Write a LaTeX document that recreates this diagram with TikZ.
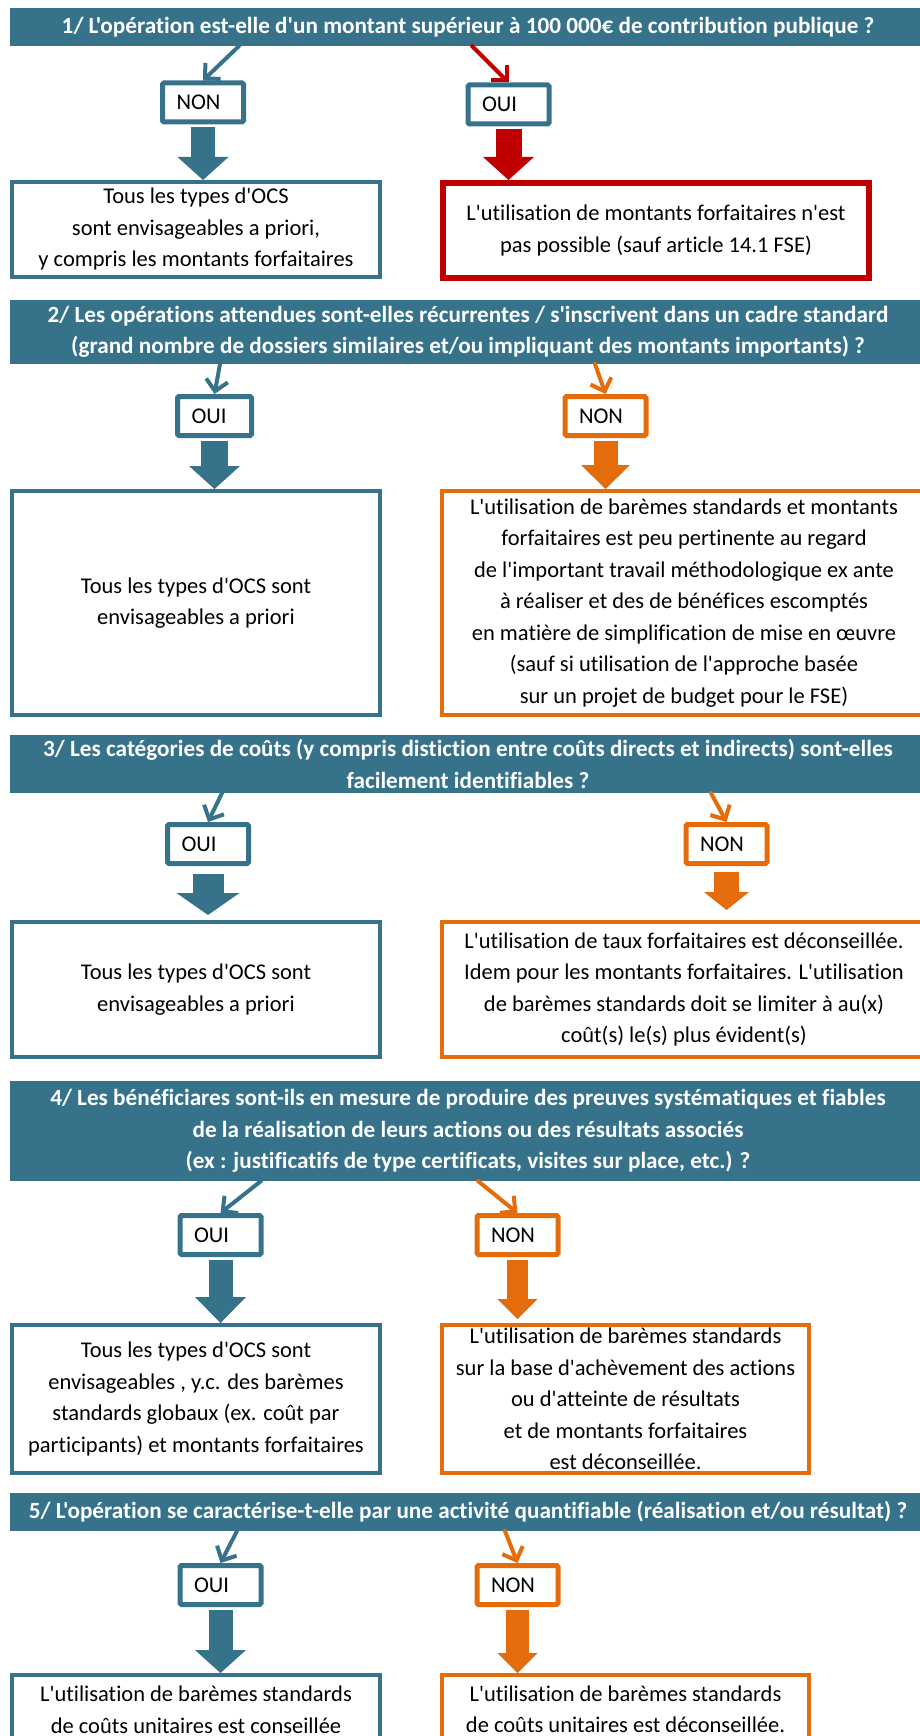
\documentclass[tikz,border=0pt]{standalone}
\usepackage{fontspec}
\setmainfont{Carlito}[Ligatures = {TeXOff, CommonOff}]
\usetikzlibrary{arrows.meta}
\definecolor{Teal}{RGB}{54,115,139}
\definecolor{Orange}{RGB}{228,108,10}
\definecolor{Red}{RGB}{192,0,0}

\begin{document}
\fontsize{22.5}{31.5}\selectfont
\begin{tikzpicture}[x = 1pt, y = -1pt]
\tikzstyle{QuestionStyle}=[fill = Teal, text = white, font = \fontsize{23.2}{31.5}\selectfont\bfseries,
                           minimum width = 916pt, inner sep = 0pt, align = center]
\tikzstyle{AnswerStyle}=[draw, line width = 5pt, rounded corners = 1.5pt, fill = white,
                         text width = 53pt, inner xsep = 14pt, inner ysep = 0pt,
                         minimum height = 39pt, align = left]
\tikzstyle{ResultStyle}=[draw, line width = 4pt, inner sep = 0pt, align = center,
                         minimum width = 368pt]
\tikzstyle{LinkStyle}=[line width = 4pt, line cap = round,
                       -{Straight Barb[length = 11pt, width = 22pt]}]
\tikzstyle{BlockStyle}=[line width = 24pt, shorten < = 2.5pt,
                        -{Triangle[width = 51pt, length = 23pt, line width = 0pt]}]
\useasboundingbox (0, 0) rectangle (919, 1736);

\node[QuestionStyle, minimum height = 38pt] (q1) at (468, 27)
  {1/ L'opération est-elle d'un montant supérieur à 100 000€ de contribution publique ?};
\node[AnswerStyle, draw = Teal] (a1) at (203, 102.5) {NON};
\node[AnswerStyle, draw = Teal] (b1) at (508.5, 104.5) {OUI};
\node[ResultStyle, draw = Teal, minimum height = 95pt] (r1) at (196, 229.5)
  {Tous les types d'OCS\\ sont envisageables a priori,\\ y compris les  montants forfaitaires};
\node[ResultStyle, draw = Red, line width = 6pt, minimum width = 426pt, minimum height = 95pt] (s1) at (656, 230.5)
  {L'utilisation de montants forfaitaires n'est\\ pas possible (sauf article 14.1 FSE)};
\coordinate (q1a) at (239, 46);
\coordinate (q1b) at (472, 46);
\draw[LinkStyle, Teal] (q1a) -- (a1.north);
\draw[LinkStyle, Red] (q1b) -- (b1.north);
\draw[BlockStyle, Teal] (a1.south) -- (a1.south |- r1.north);
\draw[BlockStyle, Red, line width = 26pt] (b1.south) -- (b1.south |- s1.north);

\node[QuestionStyle, minimum height = 64pt] (q2) at (468, 332)
  {2/ Les opérations attendues sont-elles récurrentes / s'inscrivent dans un cadre standard\\
   (grand nombre de dossiers similaires et/ou impliquant des montants importants) ?};
\node[AnswerStyle, draw = Teal, text width = 46pt] (a2) at (214.5, 416) {OUI};
\node[AnswerStyle, draw = Orange] (b2) at (605.5, 416) {NON};
\node[ResultStyle, draw = Teal, minimum height = 224pt] (r2) at (196, 603)
  {Tous les types d'OCS sont\\ envisageables a priori};
\node[ResultStyle, draw = Orange, minimum width = 484pt, minimum height = 224pt] (s2) at (684, 603)
  {L'utilisation de barèmes standards et montants\\ forfaitaires est peu pertinente au regard\\
   de l'important travail méthodologique ex ante\\ à réaliser et des de bénéfices escomptés\\
   en matière de simplification de mise en œuvre\\ (sauf si utilisation de l'approche basée\\
   sur un projet de budget pour le FSE)};
\coordinate (q2a) at (220, 364);
\coordinate (q2b) at (595, 364);
\draw[LinkStyle, Teal] (q2a) -- (a2.north);
\draw[LinkStyle, Orange] (q2b) -- (b2.north);
\draw[BlockStyle, Teal, line width = 27pt] (a2.south) -- (a2.south |- r2.north);
\draw[BlockStyle, Orange, -{Triangle[width = 49pt, length = 24pt, line width = 0pt]}] (b2.south) -- (b2.south |- s2.north);

\node[QuestionStyle, minimum height = 58pt] (q3) at (468, 764)
  {3/ Les catégories de coûts (y compris distiction entre coûts directs et indirects) sont-elles\\
   facilement identifiables ?};
\node[AnswerStyle, draw = Teal] (a3) at (208, 844) {OUI};
\node[AnswerStyle, draw = Orange] (b3) at (726.5, 844) {NON};
\node[ResultStyle, draw = Teal, minimum height = 135pt] (r3) at (196, 989.5)
  {Tous les types d'OCS sont\\ envisageables a priori};
\node[ResultStyle, draw = Orange, minimum width = 484pt, minimum height = 135pt] (s3) at (684, 989.5)
  {L'utilisation de taux forfaitaires est déconseillée.\\ Idem pour les montants forfaitaires. L'utilisation\\
   de barèmes standards doit se limiter à au(x)\\ coût(s) le(s) plus évident(s)};
\coordinate (q3a) at (222, 793);
\coordinate (q3b) at (711, 793);
\draw[LinkStyle, Teal] (q3a) -- (a3.north);
\draw[LinkStyle, Orange] (q3b) -- (b3.north);
\draw[BlockStyle, Teal, line width = 31pt, shorten < = 8pt, shorten > = 5pt,
      -{Triangle[width = 63pt, length = 22pt, line width = 0pt]}] (a3.south) -- (a3.south |- r3.north);
\draw[BlockStyle, Orange, line width = 25pt, shorten < = 6pt, shorten > = 10pt,
      -{Triangle[width = 45pt, length = 18pt, line width = 0pt]}] (b3.south) -- (b3.south |- s3.north);

\node[QuestionStyle, minimum height = 100pt] (q4) at (468, 1131)
  {4/ Les bénéficiares sont-ils en mesure de produire des preuves systématiques et fiables\\
   de la  réalisation de leurs actions ou des  résultats associés\\
   (ex : justificatifs de type certificats,  visites sur place, etc.) ?};
\node[AnswerStyle, draw = Teal] (a4) at (220.5, 1235) {OUI};
\node[AnswerStyle, draw = Orange] (b4) at (517.5, 1235) {NON};
\node[ResultStyle, draw = Teal, minimum height = 148pt] (r4) at (196, 1399)
  {Tous les types d'OCS sont\\ envisageables , y.c. des barèmes\\ standards globaux (ex. coût par\\
   participants) et montants forfaitaires};
\node[ResultStyle, draw = Orange, minimum width = 367pt, minimum height = 148pt] (s4) at (625.5, 1399)
  {L'utilisation de barèmes standards\\ sur la base d'achèvement des actions\\ ou d'atteinte de résultats\\
   et de montants forfaitaires\\ est déconseillée.};
\coordinate (q4a) at (261, 1181);
\coordinate (q4b) at (478, 1181);
\draw[LinkStyle, Teal] (q4a) -- (a4.north);
\draw[LinkStyle, Orange] (q4b) -- (b4.north);
\draw[BlockStyle, Teal, -{Triangle[width = 51pt, length = 26pt, line width = 0pt]}] (a4.south) -- (a4.south |- r4.north);
\draw[BlockStyle, Orange, line width = 21pt, shorten > = 4pt,
      -{Triangle[width = 40pt, length = 20pt, line width = 0pt]}] (b4.south) -- (b4.south |- s4.north);

\node[QuestionStyle, minimum height = 38pt] (q5) at (468, 1512)
  {5/ L'opération se caractérise-t-elle par une activité quantifiable (réalisation et/ou résultat)  ?};
\node[AnswerStyle, draw = Teal] (a5) at (220.5, 1585) {OUI};
\node[AnswerStyle, draw = Orange] (b5) at (517.5, 1585) {NON};
\node[ResultStyle, draw = Teal, minimum height = 69pt] (r5) at (196, 1709.5)
  {L'utilisation de barèmes standards\\ de coûts unitaires est conseillée};
\node[ResultStyle, draw = Orange, minimum width = 367pt, minimum height = 69pt] (s5) at (625.5, 1709.5)
  {L'utilisation de barèmes standards\\ de coûts unitaires est déconseillée.};
\coordinate (q5a) at (237, 1531);
\coordinate (q5b) at (505, 1531);
\draw[LinkStyle, Teal] (q5a) -- (a5.north);
\draw[LinkStyle, Orange] (q5b) -- (b5.north);
\draw[BlockStyle, Teal] (a5.south) -- (a5.south |- r5.north);
\draw[BlockStyle, Orange, line width = 23pt,
      -{Triangle[width = 40pt, length = 20pt, line width = 0pt]}] (b5.south) -- (b5.south |- s5.north);
\end{tikzpicture}
\end{document}
